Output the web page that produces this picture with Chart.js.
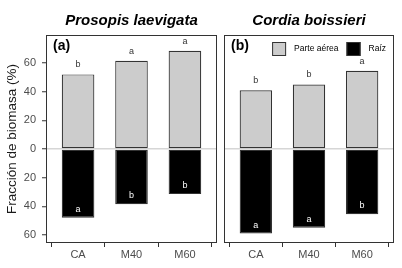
<!DOCTYPE html>
<html>
<head>
<meta charset="utf-8">
<script src="https://cdn.jsdelivr.net/npm/chart.js@4.4.0/dist/chart.umd.min.js"></script>
<style>
html, body { margin: 0; padding: 0; background: #fff; width: 402px; height: 268px; overflow: hidden; }
#leftChart { position: absolute; left: 0; top: 0; }
#rightChart { position: absolute; left: 220px; top: 0; }
</style>
</head>
<body>
<canvas id="leftChart" width="220" height="268"></canvas>
<canvas id="rightChart" width="182" height="268"></canvas>
<script>
// Data (biomass fraction, %)
const categories = ['CA', 'M40', 'M60'];
const seriesNames = ['Parte aérea', 'Raíz'];
const prosopisAerea = [52, 61.5, 68.5];
const prosopisRaiz = [48, 38.5, 31.5];
const cordiaAerea = [41, 45, 54.5];
const cordiaRaiz = [59, 55, 45.5];
const prosopisLettersAerea = ['b', 'a', 'a'];
const prosopisLettersRaiz = ['a', 'b', 'b'];
const cordiaLettersAerea = ['b', 'b', 'a'];
const cordiaLettersRaiz = ['a', 'a', 'b'];
const yTicks = [-60, -40, -20, 0, 20, 40, 60];
const xTicks = [1, 2, 3];

const FONT = '"Liberation Sans", Arial, sans-serif';
const AEREA_COLOR = '#cccccc';
const RAIZ_COLOR = '#000000';
const EDGE = '#333333';

// frame round the panel + the (a)/(b) tag
const panelFrame = {
    id: 'panelFrame',
    afterDraw(chart, args, opts) {
        const a = chart.chartArea;
        const ctx = chart.ctx;
        ctx.save();
        ctx.strokeStyle = EDGE;
        ctx.lineWidth = 1;
        ctx.strokeRect(a.left + 0.5, a.top + 0.5, a.right - a.left - 1, a.bottom - a.top - 1);
        ctx.fillStyle = '#000';
        ctx.font = 'bold 14px ' + FONT;
        ctx.textBaseline = 'middle';
        ctx.textAlign = 'left';
        ctx.fillText(opts.tag, a.left + 7, a.top + 11);
        ctx.restore();
    }
};

// significance letters above / inside the bars
const barLetters = {
    id: 'barLetters',
    afterDatasetsDraw(chart) {
        const ctx = chart.ctx;
        ctx.save();
        ctx.font = '9px ' + FONT;
        ctx.textAlign = 'center';
        ctx.textBaseline = 'alphabetic';
        chart.data.datasets.forEach((ds, i) => {
            const meta = chart.getDatasetMeta(i);
            meta.data.forEach((bar, j) => {
                const letter = ds.letters[j];
                if (ds.data[j].y >= 0) {
                    ctx.fillStyle = '#333';
                    ctx.fillText(letter, bar.x, bar.y - 7);
                } else {
                    ctx.fillStyle = '#fff';
                    ctx.fillText(letter, bar.x, bar.y - 6);
                }
            });
        });
        ctx.restore();
    }
};

// legend inside the right panel, top-right corner
const insideLegend = {
    id: 'insideLegend',
    afterDraw(chart, args, opts) {
        if (!opts.show) return;
        const a = chart.chartArea;
        const ctx = chart.ctx;
        ctx.save();
        ctx.font = '8.5px ' + FONT;
        ctx.textBaseline = 'middle';
        ctx.textAlign = 'left';
        const box = 14;
        const midY = a.top + 14;
        let x = a.right - 8;
        for (let i = chart.data.datasets.length - 1; i >= 0; i--) {
            const ds = chart.data.datasets[i];
            const w = ctx.measureText(ds.label).width;
            x -= w;
            ctx.fillStyle = '#000';
            ctx.fillText(ds.label, x, midY);
            x -= 8 + box;
            ctx.fillStyle = ds.backgroundColor;
            ctx.fillRect(x, midY - box / 2, box, box);
            ctx.strokeStyle = EDGE;
            ctx.lineWidth = 1;
            ctx.strokeRect(x + 0.5, midY - box / 2 + 0.5, box - 1, box - 1);
            x -= 8;
        }
        ctx.restore();
    }
};

function toPoints(values, sign) {
    return values.map((v, i) => ({ x: xTicks[i], y: sign * v }));
}

function makePanel(canvasId, title, tag, aerea, raiz, lettersAerea, lettersRaiz, showAxis) {
    const ctx = document.getElementById(canvasId).getContext('2d');
    return new Chart(ctx, {
        type: 'bar',
        data: {
            datasets: [{
                label: seriesNames[0],
                data: toPoints(aerea, 1),
                letters: lettersAerea,
                backgroundColor: AEREA_COLOR,
                borderColor: EDGE,
                borderWidth: 1.2,
                borderSkipped: false,
                stack: 's',
                barPercentage: 0.61,
                categoryPercentage: 1
            }, {
                label: seriesNames[1],
                data: toPoints(raiz, -1),
                letters: lettersRaiz,
                backgroundColor: RAIZ_COLOR,
                borderColor: EDGE,
                borderWidth: 1.2,
                borderSkipped: false,
                stack: 's',
                barPercentage: 0.61,
                categoryPercentage: 1
            }]
        },
        options: {
            responsive: false,
            animation: false,
            layout: { padding: { left: 0, right: showAxis ? 3 : 8, top: 0, bottom: 0 } },
            scales: {
                x: {
                    type: 'linear',
                    stacked: true,
                    min: 0.4,
                    max: 3.6,
                    offset: false,
                    afterBuildTicks: s => { s.ticks = xTicks.map(v => ({ value: v })); },
                    afterFit: s => { s.height = 25; },
                    ticks: {
                        callback: v => categories[v - 1],
                        color: '#4d4d4d',
                        font: { family: FONT, size: 11 },
                        padding: 1,
                        maxRotation: 0,
                        autoSkip: false
                    },
                    grid: { drawOnChartArea: false, tickLength: 4, tickColor: EDGE, tickWidth: 1 },
                    border: { display: false }
                },
                y: {
                    type: 'linear',
                    stacked: true,
                    min: -65.6,
                    max: 79.5,
                    afterBuildTicks: s => { s.ticks = yTicks.map(v => ({ value: v })); },
                    afterFit: s => { s.width = showAxis ? 46 : 4; },
                    ticks: {
                        display: showAxis,
                        callback: v => Math.abs(v),
                        color: '#4d4d4d',
                        font: { family: FONT, size: 11 },
                        padding: 6
                    },
                    grid: {
                        color: c => (c.tick && c.tick.value === 0) ? '#d6d6d6' : 'rgba(0,0,0,0)',
                        lineWidth: 1.5,
                        drawTicks: showAxis,
                        tickLength: 4,
                        tickColor: EDGE,
                        tickWidth: 1
                    },
                    border: { display: false },
                    title: {
                        display: showAxis,
                        text: 'Fracción de biomasa (%)',
                        color: '#1a1a1a',
                        font: { family: FONT, size: 13.5 },
                        padding: { top: 4, bottom: 0 }
                    }
                }
            },
            plugins: {
                legend: { display: false },
                tooltip: { enabled: false },
                title: {
                    display: true,
                    text: title,
                    fullSize: false,
                    color: '#000',
                    font: { family: FONT, size: 15, weight: 'bold', style: 'italic' },
                    padding: { top: 12, bottom: 5 }
                },
                panelFrame: { tag: tag },
                insideLegend: { show: !showAxis }
            }
        },
        plugins: [panelFrame, barLetters, insideLegend]
    });
}

makePanel('leftChart', 'Prosopis laevigata', '(a)', prosopisAerea, prosopisRaiz,
    prosopisLettersAerea, prosopisLettersRaiz, true);
makePanel('rightChart', 'Cordia boissieri', '(b)', cordiaAerea, cordiaRaiz,
    cordiaLettersAerea, cordiaLettersRaiz, false);
</script>
</body>
</html>
